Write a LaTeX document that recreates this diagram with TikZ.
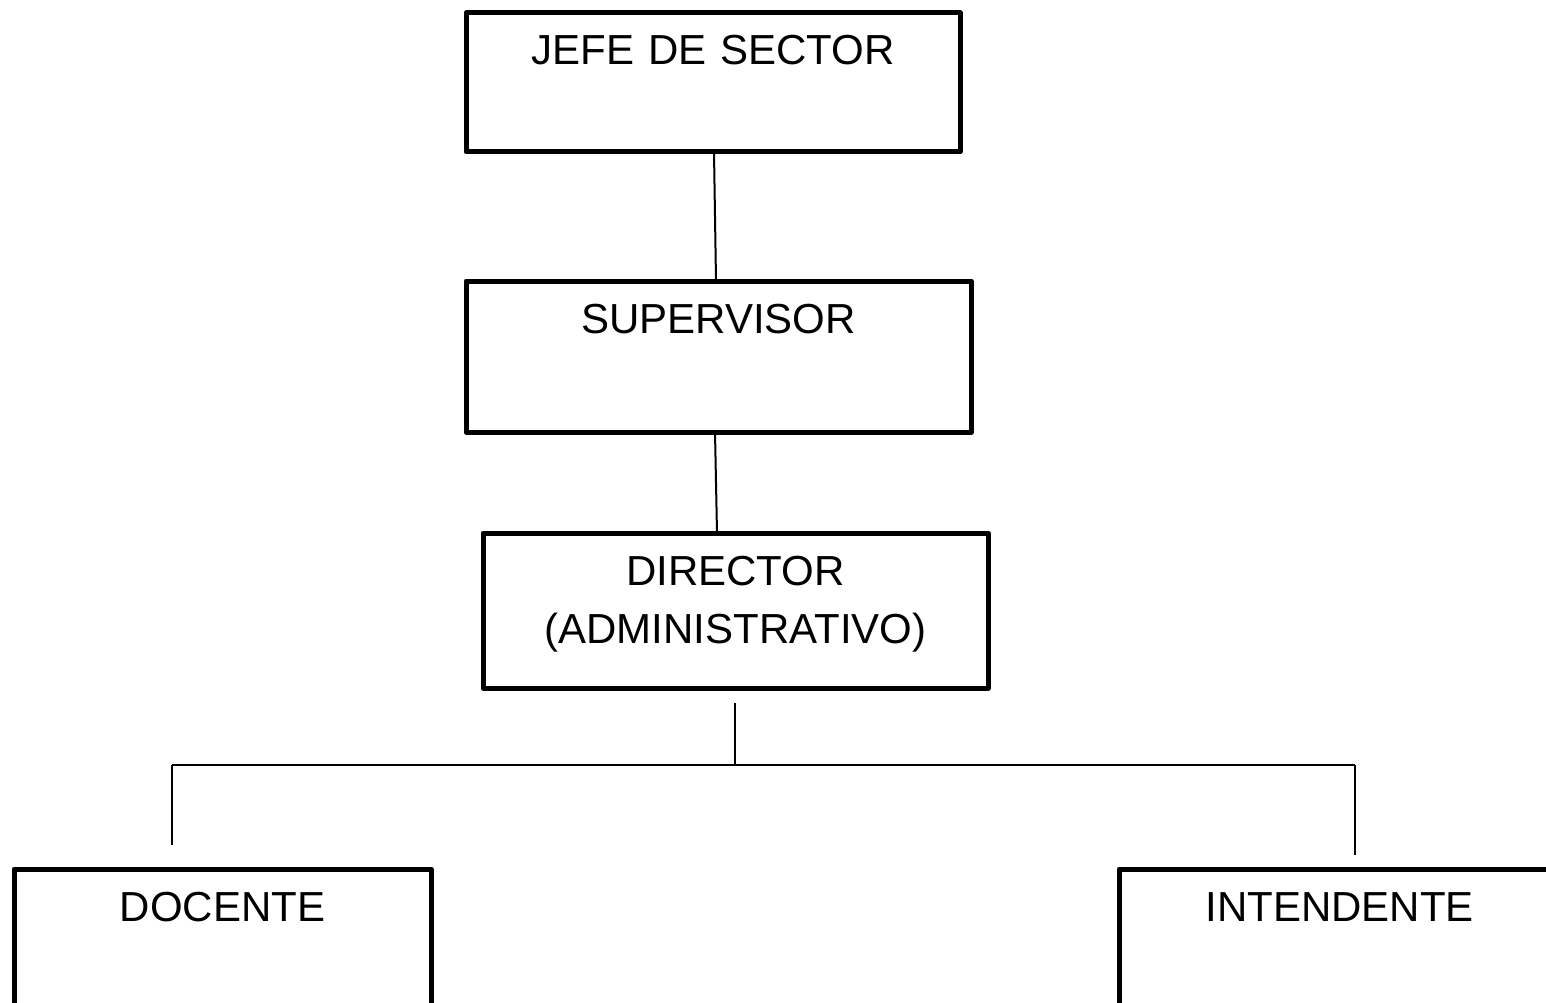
\documentclass[tikz,border=0pt]{standalone}
\usepackage{fontspec}
\setmainfont{Liberation Sans}
\usetikzlibrary{calc}
\begin{document}
\begin{tikzpicture}[x=1pt,y=-1pt,
  box/.style={draw, line width=5pt, line join=round, rectangle, outer sep=0pt,
    inner xsep=0pt, inner ysep=0pt, align=center, anchor=north,
    font=\fontsize{42}{58}\selectfont, text height=52pt},
  link/.style={draw, line width=2pt}]
\useasboundingbox (0,0) rectangle (1546,1003);
\clip (0,0) rectangle (1546,1003);
\fill[white] (0,0) rectangle (1546,1003);
\node[box, text width=494pt, text depth=87pt] (jefe) at (713,13) {JEFE DE SECTOR};
\node[box, text width=505pt, text depth=99pt] (sup) at (718.5,281) {SUPERVISOR};
\node[box, text width=505pt, text depth=103pt] (dir) at (735.5,533) {DIRECTOR\\(ADMINISTRATIVO)};
\node[box, text width=417pt, text depth=140pt] (doc) at (222.5,869) {DOCENTE};
\node[box, text width=441pt, text depth=140pt] (int) at (1339.5,869) {INTENDENTE};
\coordinate (dtop) at (735,703);
\coordinate (hub) at (735,765);
\coordinate (hl) at (172,765);
\coordinate (hr) at (1355,765);
\coordinate (docend) at (172,845);
\coordinate (intend) at (1355,855);
\draw[link] ($(jefe.south)+(1,0)$) -- ($(sup.north)+(-2.5,0)$);
\draw[link] ($(sup.south)+(-3.5,0)$) -- ($(dir.north)+(-18.5,0)$);
\draw[link] (dtop) -- (hub);
\draw[link] (hl) -- (hr);
\draw[link] (hl) -- (docend);
\draw[link] (hr) -- (intend);
\end{tikzpicture}
\end{document}
